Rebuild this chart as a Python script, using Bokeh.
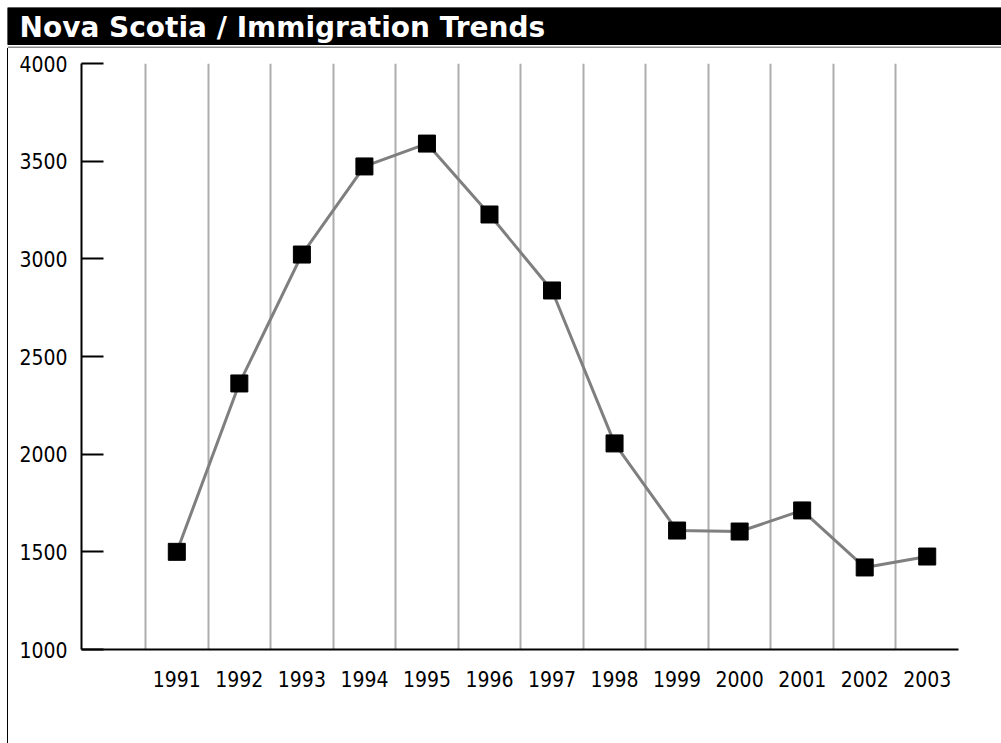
from bokeh.plotting import figure
from bokeh.layouts import column, row
from bokeh.models import Range1d, FixedTicker, ColumnDataSource
from bokeh.core.properties import value
from bokeh.embed import file_html
from bokeh.resources import INLINE

title_text = "Nova Scotia / Immigration Trends"
years = [1991, 1992, 1993, 1994, 1995, 1996, 1997, 1998, 1999, 2000, 2001, 2002, 2003]
immigrants = [1500, 2362, 3022, 3473, 3590, 3227, 2838, 2055, 1609, 1604, 1712, 1420, 1476]
y_ticks = [1000, 1500, 2000, 2500, 3000, 3500, 4000]

LABEL_FONT = "DejaVu Sans Condensed"

# ---- title bar ----
tf = figure(width=994, height=41, x_range=Range1d(0, 994), y_range=Range1d(41, 0),
            toolbar_location=None, output_backend="svg", min_border=0,
            x_axis_location=None, y_axis_location=None,
            margin=(7, 0, 0, 7))
tf.grid.visible = False
tf.outline_line_color = None
tf.background_fill_color = "white"
tf.border_fill_color = "white"
tf.quad(left=[0], right=[994], top=[0], bottom=[37], color="black")
tf.segment(x0=[0], x1=[994], y0=[39.8], y1=[39.8], line_color="#8a8a8a", line_width=1.5)
tf.text(x=[12], y=[20], text=[title_text], text_color="white",
        text_font=value("DejaVu Sans"), text_font_style="bold",
        text_font_size="28px", text_baseline="middle", text_align="left")

# ---- main chart ----
x_lo = years[0] - 1.524
x_hi = years[-1] + 0.5
p = figure(width=994, height=695, x_range=Range1d(x_lo, x_hi),
           y_range=Range1d(y_ticks[0], y_ticks[-1]),
           toolbar_location=None, output_backend="svg",
           min_border_left=73, min_border_right=44,
           min_border_top=15, min_border_bottom=94,
           margin=(0, 0, 0, 7),
           styles={"border-left": "1.5px solid black", "box-sizing": "border-box"})
p.outline_line_color = None
p.background_fill_color = "white"
p.border_fill_color = "white"

# grid: vertical lines between years
p.xgrid.ticker = FixedTicker(ticks=[y - 0.5 for y in years] + [years[-1] + 0.5])
p.xgrid.grid_line_color = "#adadad"
p.xgrid.grid_line_width = 2
p.ygrid.visible = False

# x axis
p.xaxis.ticker = FixedTicker(ticks=years)
p.xaxis.axis_line_color = "black"
p.xaxis.axis_line_width = 2
p.xaxis.major_tick_line_color = None
p.xaxis.minor_tick_line_color = None
p.xaxis.major_label_text_font = LABEL_FONT
p.xaxis.major_label_text_font_size = "21px"
p.xaxis.major_label_text_color = "black"
p.xaxis.major_label_standoff = 15

# y axis
p.yaxis.ticker = FixedTicker(ticks=y_ticks)
p.yaxis.axis_line_color = "black"
p.yaxis.axis_line_width = 2
p.yaxis.major_tick_line_color = "black"
p.yaxis.major_tick_line_width = 2
p.yaxis.major_tick_in = 22
p.yaxis.major_tick_out = 0
p.yaxis.minor_tick_line_color = None
p.yaxis.major_label_text_font = LABEL_FONT
p.yaxis.major_label_text_font_size = "21px"
p.yaxis.major_label_text_color = "black"
p.yaxis.major_label_standoff = 14

src = ColumnDataSource(dict(year=years, n=immigrants))
p.line("year", "n", source=src, line_color="#7f7f7f", line_width=3)
p.scatter("year", "n", source=src, marker="square", size=17,
          fill_color="black", line_color="black")

layout = column(tf, row(p, spacing=0), spacing=0)

open("out.html", "w").write(file_html(layout, INLINE))
